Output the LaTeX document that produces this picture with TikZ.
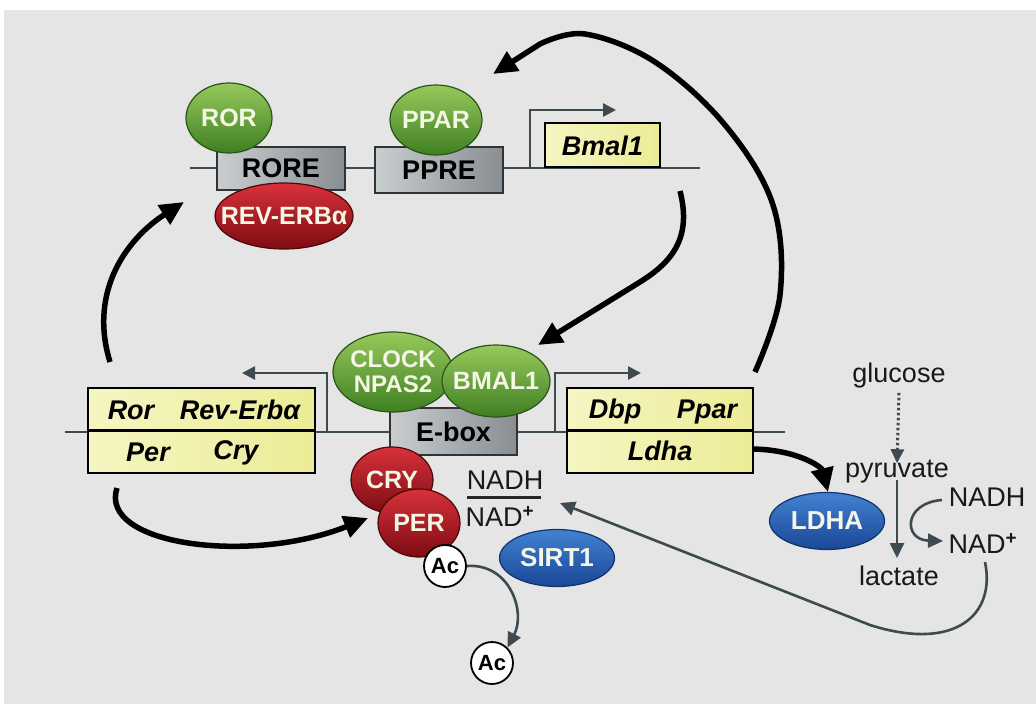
\documentclass[tikz,border=0pt]{standalone}
\usepackage{fontspec}
\setmainfont{Liberation Sans}
\usetikzlibrary{arrows.meta,shapes.geometric}
\definecolor{bg}{HTML}{E5E5E5}
\definecolor{dna}{HTML}{3D4A50}
\definecolor{gtop}{HTML}{97C95C}
\definecolor{gbot}{HTML}{3F7F22}
\definecolor{gbrd}{HTML}{2A5518}
\definecolor{rtop}{HTML}{D8313A}
\definecolor{rbot}{HTML}{7E0C12}
\definecolor{rbrd}{HTML}{4A0808}
\definecolor{btop}{HTML}{4282D2}
\definecolor{bbot}{HTML}{1A4796}
\definecolor{bbrd}{HTML}{12336E}
\definecolor{yel}{HTML}{ECEC96}
\definecolor{yel2}{HTML}{F5F5C2}
\definecolor{glt}{HTML}{C9CDD0}
\definecolor{gdk}{HTML}{878E92}
\definecolor{wtxt}{HTML}{F4F6E6}
\newcommand{\zw}[1]{\makebox[0pt]{#1}}
\begin{document}
\begin{tikzpicture}[x=1pt,y=-1pt,
  every node/.style={inner sep=0pt, font=\fontsize{27}{30}\selectfont},
  dnaline/.style={draw=dna, line width=2.2pt},
  prom/.style={draw=dna, line width=2.6pt, -{Triangle[length=13pt,width=13pt]}},
  graybox/.style={rectangle, draw=black!80, line width=1.3pt, left color=glt, right color=gdk, font=\fontsize{27}{30}\selectfont\bfseries},
  yelbox/.style={rectangle, draw=black, line width=2.4pt, left color=yel2, right color=yel},
  gene/.style={anchor=base, font=\fontsize{27}{30}\selectfont\bfseries\itshape},
  green/.style={ellipse, draw=gbrd, line width=1.2pt, top color=gtop, bottom color=gbot, text=wtxt, font=\fontsize{25}{26}\selectfont\bfseries},
  red/.style={ellipse, draw=rbrd, line width=1.2pt, top color=rtop, bottom color=rbot, text=wtxt, font=\fontsize{25}{26}\selectfont\bfseries},
  blue/.style={ellipse, draw=bbrd, line width=1.2pt, top color=btop, bottom color=bbot, text=wtxt, font=\fontsize{26}{28}\selectfont\bfseries},
  acetyl/.style={circle, draw=black, line width=1.8pt, fill=white, minimum size=42pt, font=\fontsize{22}{22}\selectfont\bfseries},
  bigarrow/.style={draw=black, line width=5.5pt, -{Triangle[length=24pt,width=22pt]}},
  garrow/.style={draw=dna, line width=2.6pt, -{Triangle[length=15pt,width=14pt]}},
  lbl/.style={font=\fontsize{27}{30}\selectfont, text=black!90}
]
\useasboundingbox (0,0) rectangle (1036,704);
\fill[white] (0,0) rectangle (1036,704);
\fill[bg] (4,10) rectangle (1036,704);

% DNA lines
\coordinate (t0) at (190,168);
\coordinate (t1) at (700,168);
\coordinate (m0) at (65,432);
\coordinate (m1) at (785,432);
\draw[dnaline] (t0) -- (t1);
\draw[dnaline] (m0) -- (m1);

% promoter arrows
\coordinate (pa0) at (530,168);
\coordinate (pa1) at (616,110);
\draw[prom] (pa0) |- (pa1);
\coordinate (pl0) at (327,432);
\coordinate (pl1) at (242,373);
\draw[prom] (pl0) |- (pl1);
\coordinate (pr0) at (555,432);
\coordinate (pr1) at (641,373);
\draw[prom] (pr0) |- (pr1);

% top row
\node[graybox, minimum width=128pt, minimum height=43pt] (rore) at (281,168.5) {RORE};
\node[green, minimum width=86pt, minimum height=70pt] (ror) at (229,118) {\zw{ROR}};
\node[red, minimum width=138pt, minimum height=66pt] (rev) at (284,216) {\zw{REV-ERBα}};
\node[graybox, minimum width=128pt, minimum height=46pt] (ppre) at (439,170) {PPRE};
\node[green, minimum width=92pt, minimum height=70pt] (ppar) at (436,120) {\zw{PPAR}};
\node[yelbox, minimum width=115pt, minimum height=44pt] (bmal1box) at (602.5,145) {};
\node[gene] (bmal1g) at (602.5,155) {Bmal1};

% middle row
\node[yelbox, minimum width=227pt, minimum height=85pt] (lbox) at (201.5,430.5) {};
\draw[black, line width=2.4pt] (lbox.west) -- (lbox.east);
\node[gene] (gror) at (131,419) {Ror};
\node[gene] (grev) at (240,419) {Rev-Erbα};
\node[gene] (gper) at (148,461) {Per};
\node[gene] (gcry) at (236,459) {Cry};

\node[yelbox, minimum width=186pt, minimum height=85pt] (rbox) at (660,430.5) {};
\draw[black, line width=2.4pt] (rbox.west) -- (rbox.east);
\node[gene] (gdbp) at (615,418) {Dbp};
\node[gene] (gppar) at (707,418) {Ppar};
\node[gene] (gldha) at (660,460) {Ldha};

\node[graybox, minimum width=127pt, minimum height=47pt] (ebox) at (453.5,431.5) {E-box};
\node[green, minimum width=120pt, minimum height=80pt, align=center, font=\fontsize{24}{24}\selectfont\bfseries] (clock) at (393,372) {\zw{CLOCK}\\[1pt]\zw{NPAS2}};
\node[green, minimum width=108pt, minimum height=72pt] (bmal) at (496,381) {\zw{BMAL1}};

\node[red, minimum width=82pt, minimum height=66pt] (cry) at (392,480) {\zw{CRY}};
\node[red, minimum width=82pt, minimum height=68pt] (per) at (419,523) {\zw{PER}};
\node[acetyl] (ac1) at (445,566) {Ac};
\node[acetyl] (ac2) at (492,663) {Ac};

\node[lbl] (nadh1) at (505,480) {NADH};
\node[lbl] (nad1) at (500,516) {NAD\textsuperscript{\bfseries+}};
\draw[black!85, line width=3pt] (467,497) -- (541,497);

\node[blue, minimum width=115pt, minimum height=57pt] (sirt) at (557,558) {\zw{SIRT1}};

% glycolysis
\node[blue, minimum width=115pt, minimum height=57pt] (ldha) at (827,521) {\zw{LDHA}};
\node[lbl] (glc) at (899,376) {glucose};
\node[lbl] (pyr) at (897,472) {pyruvate};
\node[lbl] (lac) at (899,576) {lactate};
\node[lbl] (nadh2) at (987,497) {NADH};
\node[lbl] (nad2) at (983,543) {NAD\textsuperscript{\bfseries+}};

\draw[draw=dna, line width=3pt, dash pattern=on 2.5pt off 2.5pt, -{Triangle[length=14pt,width=13pt]}] (glc.south) ++(0,4) -- ([yshift=-3pt]pyr.north);
\draw[garrow] ([yshift=4pt]pyr.south -| 897,0) -- (897,558);
\draw[garrow] (942,500) .. controls (903,503) and (903,540) .. (943,541);

% long gray return arrow
\coordinate (lg1) at (870,625);
\coordinate (lgtip) at (560,503);
\draw[garrow] (985,562) .. controls (996,615) and (955,652) .. (lg1) -- (lgtip);

% Ac release
\draw[garrow] (ac1.east) .. controls (510,563) and (526,612) .. (ac2.north east);

% black feedback arrows
\coordinate (b1s) at (110,362);
\coordinate (b1t) at (184,202);
\draw[bigarrow] (b1s) .. controls (88,290) and (128,238) .. (b1t);
\coordinate (b2s) at (117,488);
\coordinate (b2t) at (368,518);
\draw[bigarrow] (b2s) .. controls (98,545) and (250,565) .. (b2t);
\coordinate (b3s) at (680,191);
\coordinate (b3m) at (640,282);
\coordinate (b3t) at (538,345);
\draw[bigarrow] (b3s) .. controls (692,238) and (672,262) .. (b3m) -- (b3t);
\coordinate (b4s) at (755,372);
\coordinate (b4t) at (493,74);
\draw[bigarrow] plot[smooth, tension=0.6] coordinates {(755,372) (780,295) (773,205) (725,125) (655,62) (585,34) (540,44)} -- (b4t);
\coordinate (b5s) at (753,449);
\coordinate (b5t) at (828,492);
\draw[bigarrow] (b5s) .. controls (800,450) and (822,468) .. (b5t);
\end{tikzpicture}
\end{document}
